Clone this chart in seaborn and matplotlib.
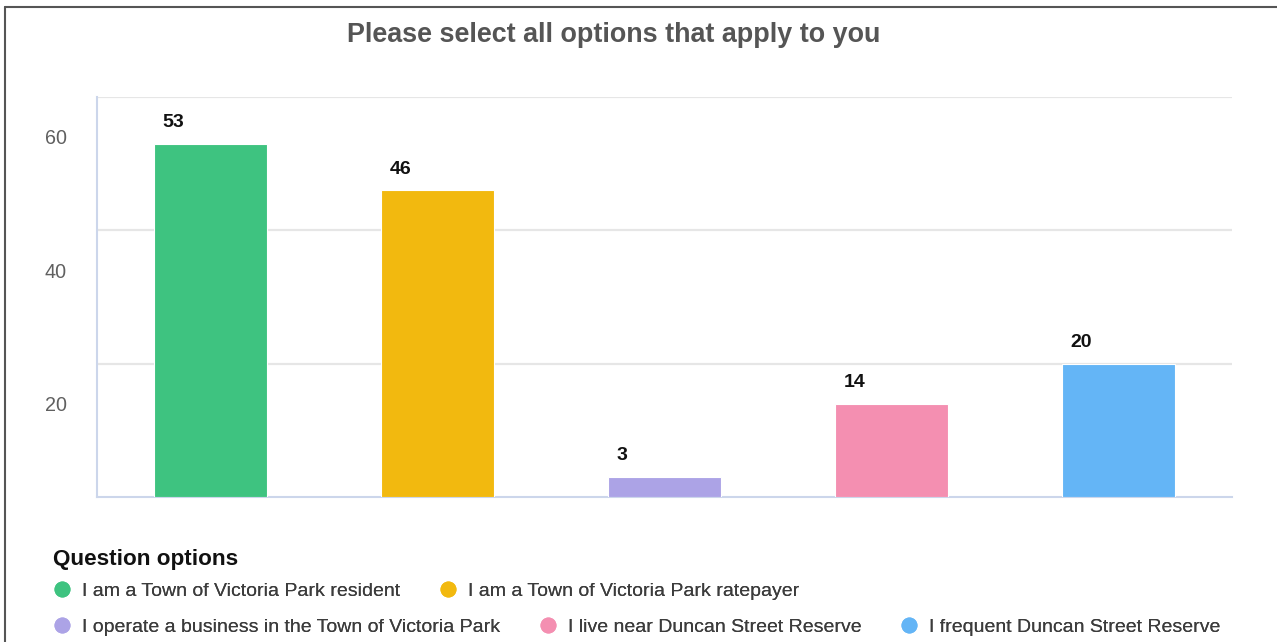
import matplotlib
matplotlib.use("Agg")
import matplotlib.pyplot as plt
import matplotlib.transforms as mtransforms
from matplotlib.lines import Line2D
import seaborn as sns
import pandas as pd

# ---- data ----
categories = [
    "I am a Town of Victoria Park resident",
    "I am a Town of Victoria Park ratepayer",
    "I operate a business in the Town of Victoria Park",
    "I live near Duncan Street Reserve",
    "I frequent Duncan Street Reserve",
]
values = [53, 46, 3, 14, 20]
colors = ["#3ec380", "#f2b90f", "#aca3e6", "#f48fb1", "#64b5f6"]
y_ticks = [20, 40, 60]
title = "Please select all options that apply to you"
legend_title = "Question options"

df = pd.DataFrame({"option": categories, "count": values})

sns.set_theme(style="white")
plt.rcParams["font.family"] = ["Liberation Sans", "DejaVu Sans"]

W, H = 1277, 642
fig = plt.figure(figsize=(W / 100, H / 100), dpi=100)
ax = fig.add_axes([97 / W, 1 - 497 / H, (1232 - 97) / W, (497 - 97) / H])

sns.barplot(data=df, x="option", y="count", hue="option", order=categories,
            hue_order=categories, palette=colors, saturation=1, width=0.5,
            edgecolor="white", linewidth=0.8, legend=False, ax=ax, zorder=3)

ax.set_xlim(-0.5, len(categories) - 0.5)
ax.set_ylim(0, 60)
ax.set_xlabel("")
ax.set_ylabel("")
ax.set_xticks([])
ax.set_yticks(y_ticks)
ax.set_yticklabels([str(t) for t in y_ticks], fontsize=14.2, color="#606060")
ax.tick_params(axis="y", length=0, pad=21.6)
off = mtransforms.ScaledTranslation(0, -0.40, fig.dpi_scale_trans)
for lab in ax.get_yticklabels():
    lab.set_transform(lab.get_transform() + off)

ax.grid(axis="y", color="#e6e6e6", linewidth=1.6, zorder=0)
ax.grid(axis="x", visible=False)
for side in ["top", "right"]:
    ax.spines[side].set_visible(False)
ax.spines["left"].set_color("#ccd6eb")
ax.spines["left"].set_linewidth(1.5)
ax.spines["bottom"].set_color("#ccd6eb")
ax.spines["bottom"].set_linewidth(1.5)
ax.spines["bottom"].set_zorder(2)

# value labels
for bar, v in zip(ax.patches, values):
    ax.annotate(str(v), xy=(bar.get_x(), bar.get_height()),
                xytext=(9, 21), textcoords="offset pixels",
                ha="left", va="center", fontsize=14, fontweight="bold",
                color="#111111")

# title
fig.text(614 / W, 1 - 35 / H, title, ha="center", va="center",
         fontsize=19.4, fontweight="bold", color="#555555")

# legend
fig.text(53 / W, 1 - 560 / H, legend_title, ha="left", va="center",
         fontsize=16.2, fontweight="bold", color="#111111")
handles = [Line2D([0], [0], marker="o", linestyle="none", markersize=11.5,
                  markerfacecolor=bar.get_facecolor(), markeredgewidth=0)
           for bar in ax.patches]
rows = [(0, 2, 591), (2, 5, 627)]
for a, b, yrow in rows:
    leg = fig.legend(handles[a:b], categories[a:b], loc="center left",
                     bbox_to_anchor=(53 / W, 1 - yrow / H), ncol=b - a,
                     frameon=False, fontsize=14, handlelength=0.9,
                     handletextpad=0.6, columnspacing=1.98, borderpad=0,
                     borderaxespad=0)
    for t in leg.get_texts():
        t.set_color("#3c3c3c")
    fig.add_artist(leg)

# outer border (top and left)
fig.add_artist(Line2D([5 / W, 1], [1 - 7 / H, 1 - 7 / H], transform=fig.transFigure,
                      color="#555555", linewidth=1.5))
fig.add_artist(Line2D([5 / W, 5 / W], [0, 1 - 7 / H], transform=fig.transFigure,
                      color="#555555", linewidth=1.5))

fig.savefig("out.png", dpi=100)
